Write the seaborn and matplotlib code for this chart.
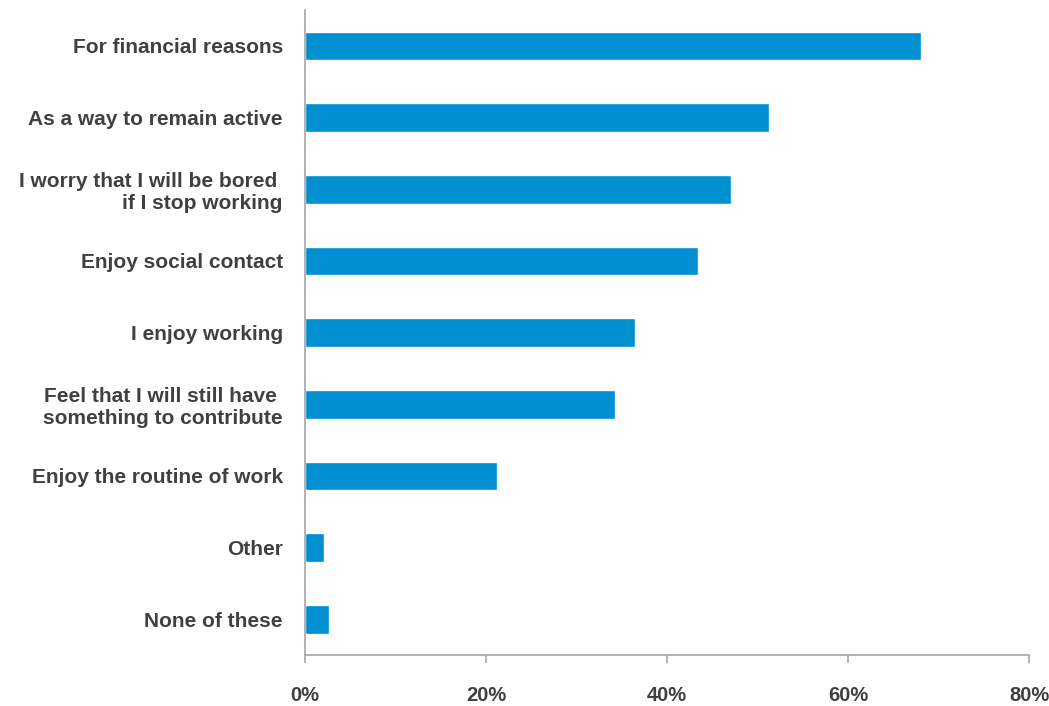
import matplotlib
matplotlib.use("Agg")
import matplotlib.pyplot as plt
import seaborn as sns
import pandas as pd
from matplotlib.ticker import FuncFormatter

# Reasons for continuing to work (share of respondents, %)
reasons = [
    "For financial reasons",
    "As a way to remain active",
    "I worry that I will be bored \nif I stop working",
    "Enjoy social contact",
    "I enjoy working",
    "Feel that I will still have \nsomething to contribute",
    "Enjoy the routine of work",
    "Other",
    "None of these",
]
shares = [68.1, 51.3, 47.1, 43.4, 36.5, 34.3, 21.2, 2.1, 2.7]
x_ticks = [0, 20, 40, 60, 80]

df = pd.DataFrame({"reason": reasons, "share": shares})

sns.set_theme(style="white")
plt.rcParams["font.family"] = ["Liberation Sans", "DejaVu Sans"]

text_color = "#404040"
axis_color = "#a6a6a6"
bar_color = "#008fd1"

fig = plt.figure(figsize=(10.49, 7.06), dpi=100)
ax = fig.add_axes([0.2908, 0.0722, 0.6902, 0.9136])

sns.barplot(data=df, x="share", y="reason", orient="h", color=bar_color,
            saturation=1, width=0.4, ax=ax)

ax.set_xlim(0, 80)
ax.set_ylim(8.5, -0.5)
ax.set_xticks(x_ticks)
ax.xaxis.set_major_formatter(FuncFormatter(lambda v, _: f"{v:.0f}%"))
ax.set_xlabel("")
ax.set_ylabel("")

for side in ["top", "right"]:
    ax.spines[side].set_visible(False)
for side in ["left", "bottom"]:
    ax.spines[side].set_color(axis_color)
    ax.spines[side].set_linewidth(1.2)

ax.tick_params(axis="x", which="major", direction="out", length=6, width=1.2,
               color=axis_color, pad=16, labelsize=14.5, labelcolor=text_color,
               bottom=True)
ax.tick_params(axis="y", length=0, pad=16, labelsize=15, labelcolor=text_color)
for lbl in ax.get_xticklabels():
    lbl.set_fontweight("bold")
    lbl.set_family(["Liberation Sans Narrow", "Liberation Sans", "DejaVu Sans"])
for lbl in ax.get_yticklabels():
    lbl.set_fontweight("bold")
    lbl.set_horizontalalignment("right")
    lbl.set_multialignment("right")
    lbl.set_linespacing(1.2)

ax.grid(False)
fig.savefig("out.png", dpi=100)
